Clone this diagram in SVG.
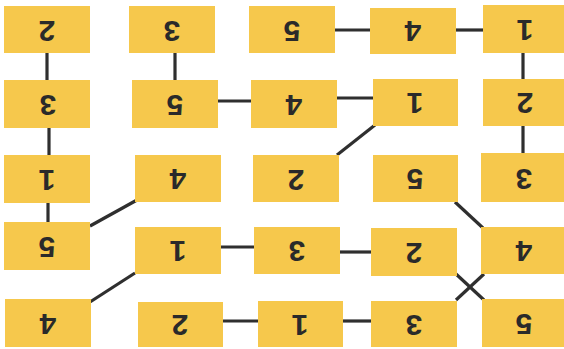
<svg xmlns="http://www.w3.org/2000/svg" width="564" height="349" viewBox="0 0 564 349">
<style>
.b{fill:#F6C84C}
.t{font-family:"Liberation Sans",Arial,sans-serif;font-weight:bold;font-size:30px;fill:#2a2a2a;text-anchor:middle;dominant-baseline:central}
.c line{stroke:#2f2f2f;stroke-width:3.2}
</style>
<rect width="564" height="349" fill="#fff"/>
<g class="c" id="connectors">
<line x1="47" y1="53" x2="47" y2="80"/>
<line x1="49" y1="128" x2="49" y2="155"/>
<line x1="48" y1="203" x2="48" y2="222"/>
<line x1="90" y1="226" x2="137" y2="200"/>
<line x1="90" y1="302" x2="135" y2="273"/>
<line x1="175" y1="53" x2="175" y2="80"/>
<line x1="218" y1="101" x2="251" y2="101"/>
<line x1="221" y1="247" x2="254" y2="247"/>
<line x1="223" y1="321" x2="258" y2="321"/>
<line x1="335" y1="30" x2="370" y2="30"/>
<line x1="456" y1="30" x2="483" y2="30"/>
<line x1="337" y1="98" x2="373" y2="98"/>
<line x1="375" y1="125" x2="337" y2="155"/>
<line x1="523" y1="53" x2="523" y2="79"/>
<line x1="523" y1="126" x2="523" y2="153"/>
<line x1="340" y1="252" x2="371" y2="252"/>
<line x1="343" y1="321" x2="371" y2="321"/>
<line x1="455" y1="202" x2="483" y2="228"/>
<line x1="456" y1="274" x2="484" y2="300"/>
<line x1="456" y1="300" x2="484" y2="274"/>
</g>
<g id="n11"><rect class="b" x="4" y="6" width="86" height="47"/><text class="t" transform="rotate(180 47 31)" x="47" y="31">2</text></g>
<g id="n21"><rect class="b" x="4" y="80" width="86" height="48"/><text class="t" transform="rotate(180 48 105)" x="48" y="105">3</text></g>
<g id="n31"><rect class="b" x="4" y="155" width="86" height="48"/><text class="t" transform="rotate(180 47 180)" x="47" y="180">1</text></g>
<g id="n41"><rect class="b" x="4" y="222" width="86" height="48"/><text class="t" transform="rotate(180 47 247)" x="47" y="247">5</text></g>
<g id="n51"><rect class="b" x="5" y="299" width="86" height="48"/><text class="t" transform="rotate(180 48 324)" x="48" y="324">4</text></g>
<g id="n12"><rect class="b" x="129" y="6" width="86" height="47"/><text class="t" transform="rotate(180 172 31)" x="172" y="31">3</text></g>
<g id="n22"><rect class="b" x="132" y="80" width="86" height="48"/><text class="t" transform="rotate(180 175 105)" x="175" y="105">5</text></g>
<g id="n32"><rect class="b" x="135" y="155" width="86" height="47"/><text class="t" transform="rotate(180 178 179)" x="178" y="179">4</text></g>
<g id="n42"><rect class="b" x="135" y="227" width="86" height="47"/><text class="t" transform="rotate(180 178 251)" x="178" y="251">1</text></g>
<g id="n52"><rect class="b" x="138" y="302" width="85" height="45"/><text class="t" transform="rotate(180 180 325)" x="180" y="325">2</text></g>
<g id="n13"><rect class="b" x="249" y="6" width="86" height="47"/><text class="t" transform="rotate(180 292 31)" x="292" y="31">5</text></g>
<g id="n23"><rect class="b" x="251" y="80" width="86" height="48"/><text class="t" transform="rotate(180 294 105)" x="294" y="105">4</text></g>
<g id="n33"><rect class="b" x="253" y="155" width="86" height="47"/><text class="t" transform="rotate(180 296 180)" x="296" y="180">2</text></g>
<g id="n43"><rect class="b" x="254" y="227" width="86" height="47"/><text class="t" transform="rotate(180 297 251)" x="297" y="251">3</text></g>
<g id="n53"><rect class="b" x="258" y="301" width="85" height="46"/><text class="t" transform="rotate(180 300 325)" x="300" y="325">1</text></g>
<g id="n14"><rect class="b" x="370" y="8" width="86" height="46"/><text class="t" transform="rotate(180 413 31)" x="413" y="31">4</text></g>
<g id="n24"><rect class="b" x="373" y="79" width="85" height="47"/><text class="t" transform="rotate(180 415 103)" x="415" y="103">1</text></g>
<g id="n34"><rect class="b" x="373" y="155" width="85" height="47"/><text class="t" transform="rotate(180 415 179)" x="415" y="179">5</text></g>
<g id="n44"><rect class="b" x="371" y="228" width="86" height="48"/><text class="t" transform="rotate(180 414 253)" x="414" y="253">2</text></g>
<g id="n54"><rect class="b" x="371" y="301" width="86" height="46"/><text class="t" transform="rotate(180 414 325)" x="414" y="325">3</text></g>
<g id="n15"><rect class="b" x="483" y="5" width="81" height="48"/><text class="t" transform="rotate(180 525 30)" x="525" y="30">1</text></g>
<g id="n25"><rect class="b" x="483" y="79" width="81" height="47"/><text class="t" transform="rotate(180 525 103)" x="525" y="103">2</text></g>
<g id="n35"><rect class="b" x="481" y="153" width="83" height="49"/><text class="t" transform="rotate(180 524 179)" x="524" y="179">3</text></g>
<g id="n45"><rect class="b" x="481" y="227" width="83" height="47"/><text class="t" transform="rotate(180 524 251)" x="524" y="251">4</text></g>
<g id="n55"><rect class="b" x="482" y="299" width="82" height="48"/><text class="t" transform="rotate(180 524 324)" x="524" y="324">5</text></g>
</svg>
